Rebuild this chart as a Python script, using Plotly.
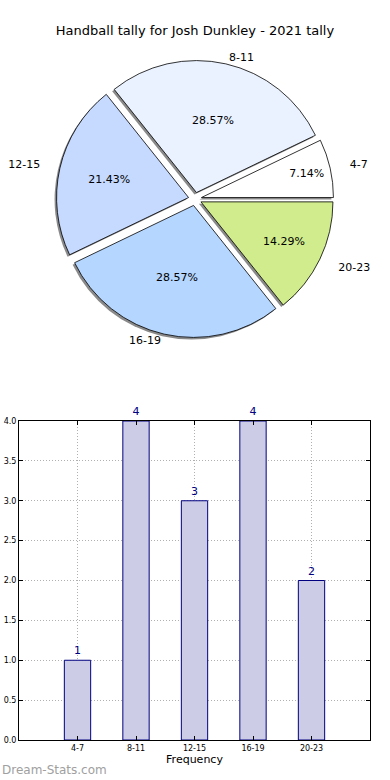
import plotly.graph_objects as go

categories = ["4-7", "8-11", "12-15", "16-19", "20-23"]
counts = [1, 4, 3, 4, 2]
pie_colors = ["#FFFFFF", "#EAF2FF", "#C6D9FF", "#B5D6FF", "#D0EC8C"]
title_text = "Handball tally for Josh Dunkley - 2021 tally"
y_ticks = [0, 0.5, 1, 1.5, 2, 2.5, 3, 3.5, 4]
# labels sitting at the sides (wider, elliptical pie in the original)
side_labels = {"4-7", "12-15", "20-23"}

W, H = 390, 780
FONT = "DejaVu Sans"

# first wedge starts at 3 o'clock and runs counter-clockwise
rot = 90 - 360 * counts[0] / sum(counts)

# pie geometry (pixels)
cx, cy, r, pull = 195, 199, 132, 0.05

def dom(dx=0, dy=0, rad=r):
    half = rad * (1 + pull)
    return dict(x=[(cx - half + dx) / W, (cx + half + dx) / W],
                y=[1 - (cy + half + dy) / H, 1 - (cy - half + dy) / H])

fig = go.Figure()

# shadow
fig.add_trace(go.Pie(
    labels=categories, values=counts, sort=False, direction="counterclockwise",
    rotation=rot, pull=[pull] * 5, domain=dom(-2, 2), automargin=False,
    marker=dict(colors=["#8a8a8a"] * 5, line=dict(width=0)),
    textinfo="none", hoverinfo="skip", showlegend=False))

# main pie with percentages
fig.add_trace(go.Pie(
    labels=categories, values=counts, sort=False, direction="counterclockwise",
    rotation=rot, pull=[pull] * 5, domain=dom(), automargin=False,
    marker=dict(colors=pie_colors, line=dict(color="#000000", width=0.8)),
    texttemplate="%{percent:.2%}", textposition="inside",
    insidetextorientation="horizontal",
    textfont=dict(family=FONT, size=11, color="#000000"),
    showlegend=False))

# outside labels: top/bottom ones
fig.add_trace(go.Pie(
    labels=categories, values=counts, sort=False, direction="counterclockwise",
    rotation=rot, pull=[pull] * 5, domain=dom(), automargin=False,
    text=[c if c not in side_labels else "" for c in categories],
    marker=dict(colors=["rgba(0,0,0,0)"] * 5, line=dict(width=0)),
    textinfo="text", textposition="outside",
    textfont=dict(family=FONT, size=11, color="#000000"),
    hoverinfo="skip", showlegend=False))

# outside labels: side ones, on a slightly wider invisible ring
fig.add_trace(go.Pie(
    labels=categories, values=counts, sort=False, direction="counterclockwise",
    rotation=rot, pull=[pull] * 5, domain=dom(rad=r + 16), automargin=False,
    text=[c if c in side_labels else "" for c in categories],
    marker=dict(colors=["rgba(0,0,0,0)"] * 5, line=dict(width=0)),
    textinfo="text", textposition="outside",
    textfont=dict(family=FONT, size=11, color="#000000"),
    hoverinfo="skip", showlegend=False))

# bar chart
fig.add_trace(go.Bar(
    x=categories, y=counts, width=0.45,
    marker=dict(color="#CCCCE6", line=dict(color="#000080", width=1)),
    text=[str(c) for c in counts], textposition="outside",
    textfont=dict(family=FONT, size=11, color="#000080"),
    cliponaxis=False, constraintext="none",
    xaxis="x", yaxis="y", showlegend=False))

axis_common = dict(
    showline=True, linecolor="#000000", linewidth=1, mirror="allticks",
    ticks="inside", ticklen=4, tickcolor="#000000",
    showgrid=True, gridcolor="#b0b0b0", griddash="1px,2px", gridwidth=1,
    zeroline=False, automargin=False,
    tickfont=dict(family=FONT, size=8, color="#000000"),
)

fig.update_layout(
    width=W, height=H, autosize=False,
    margin=dict(l=0, r=0, t=0, b=0, autoexpand=False),
    paper_bgcolor="#FFFFFF", plot_bgcolor="#FFFFFF",
    font=dict(family=FONT),
    title=dict(text=title_text, x=0.5, xanchor="center",
               y=1 - 30 / H, yanchor="middle",
               font=dict(family=FONT, size=13, color="#000000")),
    xaxis=dict(domain=[19 / W, 370 / W], range=[-1, 5],
               type="category", anchor="y",
               title=dict(text="Frequency", standoff=2,
                          font=dict(family=FONT, size=11, color="#000000")),
               **axis_common),
    yaxis=dict(domain=[1 - 740 / H, 1 - 421 / H], range=[0, 4],
               tickvals=y_ticks, tickformat=".1f", anchor="x",
               **axis_common),
    annotations=[dict(text="Dream-Stats.com", x=0, y=1 - 770 / H,
                      xref="paper", yref="paper", xanchor="left",
                      yanchor="middle", showarrow=False,
                      font=dict(family=FONT, size=12, color="#A0A0A0"))],
)

post = (
    "document.body.style.margin='0';"
    "document.body.style.overflow='hidden';"
)

fig.write_html(
    "out.html",
    config={"displayModeBar": False},
    post_script=post,
)
